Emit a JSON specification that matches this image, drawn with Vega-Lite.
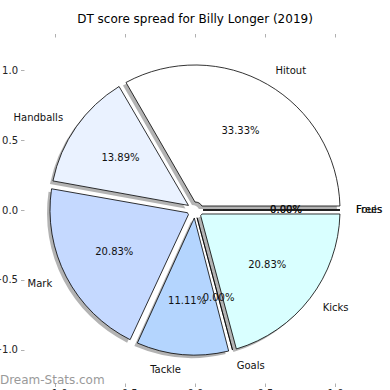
{
  "$schema": "https://vega.github.io/schema/vega-lite/v6.json",
  "autosize": {"type": "none"},
  "width": 342,
  "height": 346,
  "padding": {"left": 24, "top": 37, "right": 24, "bottom": 7},
  "background": "#ffffff",
  "title": {"text": "DT score spread for Billy Longer (2019)", "font": "DejaVu Sans", "fontSize": 12, "fontWeight": "normal", "color": "#000000", "offset": 7, "anchor": "middle"},
  "config": {"view": {"stroke": null}, "font": "DejaVu Sans"},
  "datasets": {
    "stats": [
      {"i": 1, "stat": "Hitout", "share": 0.3333},
      {"i": 2, "stat": "Handballs", "share": 0.1389},
      {"i": 3, "stat": "Mark", "share": 0.2083},
      {"i": 4, "stat": "Tackle", "share": 0.1111},
      {"i": 5, "stat": "Goals", "share": 0},
      {"i": 6, "stat": "Kicks", "share": 0.2083},
      {"i": 7, "stat": "Frees", "share": 0},
      {"i": 8, "stat": "Fouls", "share": 0}
    ],
    "mark": [{"t": "Dream-Stats.com"}]
  },
  "layer": [
    {
      "data": {"name": "stats"},
      "mark": {"type": "arc", "innerRadius": 8, "outerRadius": 145, "padAngle": 0.055, "fill": "#808080", "opacity": 0.6, "xOffset": -3, "yOffset": 3},
      "encoding": {
        "theta": {"field": "share", "type": "quantitative", "stack": true, "scale": {"range": [1.5708, -4.7124]}},
        "order": {"field": "i", "type": "quantitative"}
      }
    },
    {
      "data": {"name": "stats"},
      "mark": {"type": "arc", "innerRadius": 8, "outerRadius": 145, "padAngle": 0.055, "stroke": "#000000", "strokeWidth": 0.8},
      "encoding": {
        "theta": {"field": "share", "type": "quantitative", "stack": true},
        "order": {"field": "i", "type": "quantitative"},
        "color": {"field": "stat", "type": "nominal", "legend": null,
          "scale": {"domain": ["Hitout", "Handballs", "Mark", "Tackle", "Goals", "Kicks", "Frees", "Fouls"],
                    "range": ["#ffffff", "#eaf2ff", "#c5d9ff", "#b4d5fe", "#c0e0ff", "#d9ffff", "#e0ffff", "#e0ffff"]}}
      }
    },
    {
      "data": {"name": "stats"},
      "mark": {"type": "text", "radius": 91, "fontSize": 10, "font": "DejaVu Sans", "color": "#111111", "baseline": "middle"},
      "encoding": {
        "theta": {"field": "share", "type": "quantitative", "stack": true},
        "order": {"field": "i", "type": "quantitative"},
        "text": {"field": "share", "type": "quantitative", "format": ".2%"}
      }
    },
    {
      "data": {"name": "stats"},
      "mark": {"type": "text", "radius": 161, "fontSize": 10, "font": "DejaVu Sans", "color": "#111111", "align": "left", "baseline": "middle"},
      "encoding": {
        "theta": {"field": "share", "type": "quantitative", "stack": true},
        "order": {"field": "i", "type": "quantitative"},
        "text": {"condition": {"test": "indexof(['Hitout','Goals','Kicks','Frees','Fouls'], datum.stat) >= 0", "field": "stat", "type": "nominal"}, "value": ""}
      }
    },
    {
      "data": {"name": "stats"},
      "mark": {"type": "text", "radius": 161, "fontSize": 10, "font": "DejaVu Sans", "color": "#111111", "align": "right", "baseline": "middle"},
      "encoding": {
        "theta": {"field": "share", "type": "quantitative", "stack": true},
        "order": {"field": "i", "type": "quantitative"},
        "text": {"condition": {"test": "indexof(['Handballs','Mark','Tackle'], datum.stat) >= 0", "field": "stat", "type": "nominal"}, "value": ""}
      }
    },
    {
      "data": {"name": "mark"},
      "mark": {"type": "text", "fontSize": 12, "font": "DejaVu Sans", "color": "#9a9a9a", "align": "left", "baseline": "middle"},
      "encoding": {
        "x": {"datum": -1.393, "type": "quantitative", "scale": {"domain": [-1.221, 1.221], "nice": false, "zero": false},
              "axis": {"orient": "bottom", "values": [-1, -0.5, 0, 0.5, 1], "format": ".1f", "grid": false, "domain": false, "title": null,
                       "tickColor": "#b0b0b0", "tickSize": 3.5, "labelFont": "DejaVu Sans", "labelFontSize": 10, "labelColor": "#222222", "labelPadding": 2}},
        "y": {"datum": -1.214, "type": "quantitative", "scale": {"domain": [-1.236, 1.236], "nice": false, "zero": false},
              "axis": {"orient": "left", "values": [-1, -0.5, 0, 0.5, 1], "format": ".1f", "grid": false, "domain": false, "title": null,
                       "tickColor": "#b0b0b0", "tickSize": 3.5, "labelFont": "DejaVu Sans", "labelFontSize": 10, "labelColor": "#222222", "labelPadding": 3}},
        "text": {"field": "t", "type": "nominal"}
      }
    },
    {
      "data": {"name": "mark"},
      "mark": {"type": "point", "opacity": 0},
      "encoding": {
        "x": {"datum": 0, "type": "quantitative", "scale": {"domain": [-1.221, 1.221], "nice": false, "zero": false},
              "axis": {"orient": "top", "values": [-1, -0.5, 0, 0.5, 1], "labels": false, "grid": false, "domain": false, "title": null, "tickColor": "#b0b0b0", "tickSize": 3.5}},
        "y": {"datum": 0, "type": "quantitative", "scale": {"domain": [-1.236, 1.236], "nice": false, "zero": false}, "axis": null}
      }
    }
  ],
  "resolve": {"axis": {"x": "independent", "y": "independent"}}
}
